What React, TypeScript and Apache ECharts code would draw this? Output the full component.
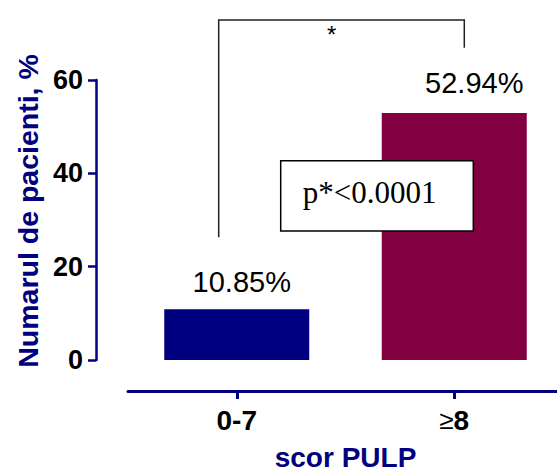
import React, { useEffect, useRef } from "react";
import * as echarts from "echarts";

const categories = ["0-7", "≥8"];
const values = [10.85, 52.94];
const barColors = ["#000080", "#800040"];
const yTicks = { min: 0, max: 60, interval: 20 };
const pValueText = "p*<0.0001";
const sigMark = "*";
const yName = "Numarul de pacienti, %";
const xName = "scor PULP";

const NAVY = "#000080";
const SANS = "'Liberation Sans', Arial, Helvetica, sans-serif";
const SERIF = "'Liberation Serif', 'Times New Roman', serif";

export default function App() {
  const ref = useRef<HTMLDivElement>(null);

  useEffect(() => {
    if (!ref.current) return;
    const chart = echarts.init(ref.current, undefined, { renderer: "svg" });
    const labelOffsets = [
      [5, 2.5],
      [20, 0],
    ];
    const option: any = {
      animation: false,
      backgroundColor: "#ffffff",
      grid: {
        left: 128,
        top: 80,
        width: 435,
        height: 280,
        containLabel: false,
        outerBoundsMode: "none",
      },
      xAxis: {
        type: "category",
        data: categories,
        offset: 31,
        axisLine: { show: true, onZero: false, lineStyle: { color: NAVY, width: 3 } },
        axisTick: { show: true, alignWithLabel: true, length: 8, lineStyle: { color: NAVY, width: 3 } },
        axisLabel: {
          margin: 15,
          color: "#000",
          fontFamily: SANS,
          fontSize: 28,
          fontWeight: "bold",
          formatter: (v: string) => (v.startsWith("≥") ? "{n|≥}{b|" + v.slice(1) + "}" : "{b|" + v + "}"),
          rich: {
            n: { fontFamily: SANS, fontSize: 26, fontWeight: "normal", color: "#000" },
            b: { fontFamily: SANS, fontSize: 28, fontWeight: "bold", color: "#000" },
          },
        },
        name: xName,
        nameLocation: "middle",
        nameGap: 54,
        nameTextStyle: { color: NAVY, fontFamily: SANS, fontSize: 28, fontWeight: "bold", lineHeight: 24 },
        splitLine: { show: false },
      },
      yAxis: {
        type: "value",
        min: yTicks.min,
        max: yTicks.max,
        interval: yTicks.interval,
        offset: 32,
        axisLine: { show: true, lineStyle: { color: NAVY, width: 2.5 } },
        axisTick: { show: true, length: 8, lineStyle: { color: NAVY, width: 2.5 } },
        axisLabel: {
          margin: 13,
          color: "#000",
          fontFamily: SANS,
          fontSize: 27,
          fontWeight: "bold",
          padding: [4, 0, 0, 0],
        },
        splitLine: { show: false },
        name: yName,
        nameLocation: "middle",
        nameGap: 54,
        nameTextStyle: {
          color: NAVY,
          fontFamily: SANS,
          fontSize: 28.5,
          fontWeight: "bold",
          padding: [0, 0, 0, 18],
        },
      },
      series: [
        {
          type: "bar",
          barWidth: 145,
          data: values.map((v, i) => ({
            value: v,
            itemStyle: { color: barColors[i] },
            label: { offset: labelOffsets[i] },
          })),
          label: {
            show: true,
            position: "top",
            distance: 15,
            formatter: "{c}%",
            color: "#000",
            fontFamily: SANS,
            fontSize: 29,
          },
        },
      ],
      graphic: [
        {
          type: "polyline",
          z: 100,
          shape: { points: [[218.7, 237.3], [218.7, 20], [464.3, 20], [464.3, 47.7]] },
          style: { stroke: "#222", lineWidth: 1.5, fill: null },
        },
        {
          type: "text",
          z: 100,
          x: 331.7,
          y: 34,
          style: { text: sigMark, fontFamily: SANS, fontSize: 24, fill: "#000", align: "center", verticalAlign: "middle" },
        },
        {
          type: "rect",
          z: 100,
          shape: { x: 280.7, y: 160.7, width: 192.6, height: 70.3 },
          style: { fill: "#fff", stroke: "#000", lineWidth: 1.5 },
        },
        {
          type: "text",
          z: 101,
          x: 302.7,
          y: 192.8,
          style: { text: pValueText, fontFamily: SERIF, fontSize: 31, fill: "#000", align: "left", verticalAlign: "middle" },
        },
      ],
    };
    chart.setOption(option);
    return () => chart.dispose();
  }, []);

  return (
    <div
      ref={ref}
      style={{ position: "absolute", left: 0, top: 0, width: 557, height: 473 }}
    />
  );
}
